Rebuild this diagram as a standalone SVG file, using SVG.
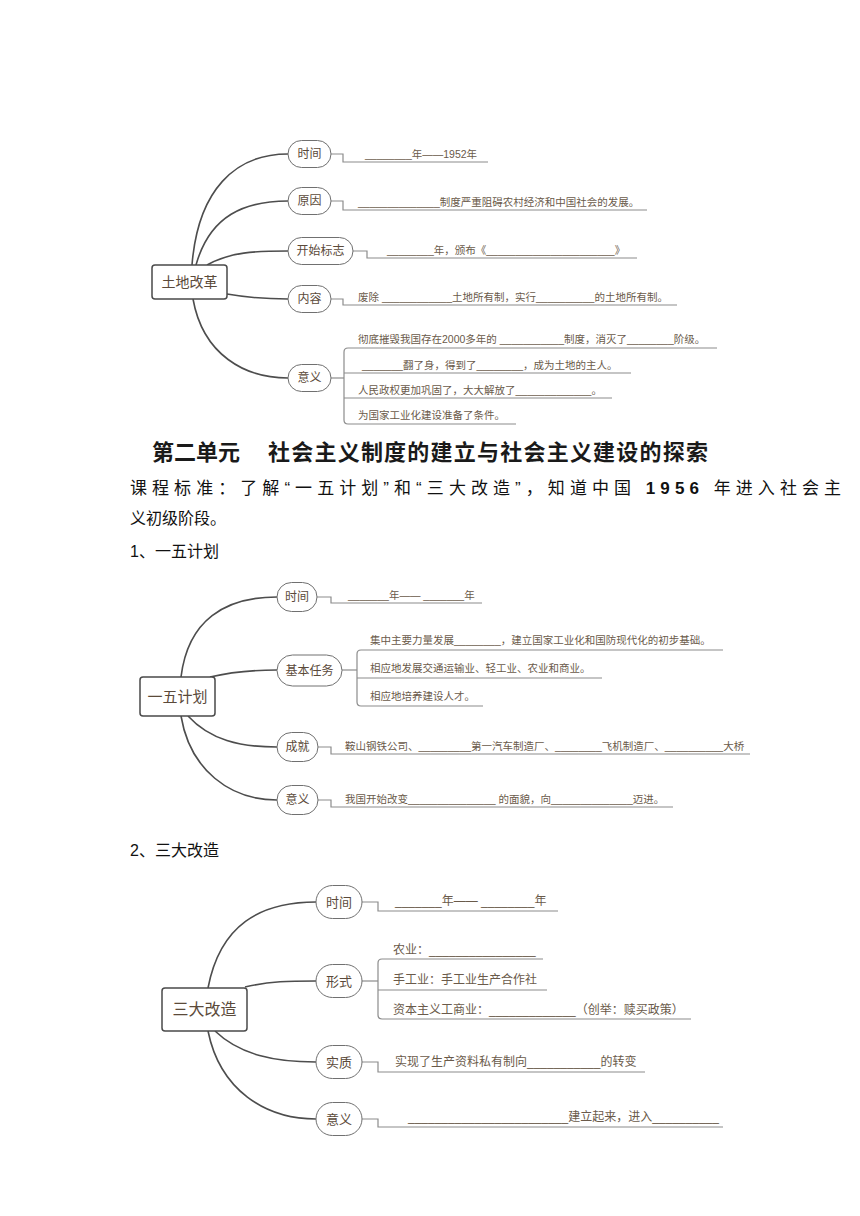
<svg xmlns="http://www.w3.org/2000/svg" width="860" height="1216" viewBox="0 0 860 1216">
<style>
text{font-family:"Liberation Sans","Noto Sans CJK SC",sans-serif;}
.root rect{fill:#fff;stroke:#4a4a4a;stroke-width:1.5;}
.root text{fill:#5b4a3a;text-anchor:middle;}
.node rect{fill:#fff;stroke:#707070;stroke-width:1;}
.node text{fill:#5b4a3a;text-anchor:middle;font-size:12px;}
.node.big text{font-size:13px;}
.conn path{fill:none;stroke:#4d4d4d;stroke-width:1.6;}
.br path{fill:none;stroke:#8c8c8c;stroke-width:1.2;}
.leaf{fill:#6a5a4a;font-size:10.5px;}
.leaf12{fill:#6a5a4a;font-size:12px;}
.head{fill:#1a1a1a;font-size:22px;font-weight:bold;}
.body{fill:#111;font-size:16px;}
.body.l1{font-size:17px;}
</style>
<rect width="860" height="1216" fill="#fff"/>

<!-- ===== Map 1: 土地改革 ===== -->
<g class="conn" id="map1-connectors">
<path d="M192,265 C198,190 235,154 288,154"/>
<path d="M196,265 C210,215 245,201 288,201"/>
<path d="M207,265 C230,252 255,251 288,251"/>
<path d="M227,294 C250,298 265,299 288,299"/>
<path d="M193,299 C203,355 245,378 288,378"/>
</g>
<g class="br" id="map1-brackets">
<path d="M331,154 H343 V162 H488"/>
<path d="M331,201 H343 V210 H647"/>
<path d="M353,251 H367 V258 H637"/>
<path d="M331,299 H343 V305 H677"/>
<path d="M331,378 H344"/>
<path d="M717,348 H348 Q344,348 344,352 V420 Q344,424 348,424 H516"/>
<path d="M344,373 H631"/>
<path d="M344,398 H612"/>
</g>
<g class="root" id="m1-root"><rect x="152" y="265" width="75" height="34" rx="3"/><text x="189.5" y="287" font-size="14">土地改革</text></g>
<g class="node" id="m1-time"><rect x="288" y="140.5" width="43" height="27" rx="13.5"/><text x="309.5" y="158">时间</text></g>
<g class="node" id="m1-cause"><rect x="288" y="187.5" width="43" height="27" rx="13.5"/><text x="309.5" y="205">原因</text></g>
<g class="node" id="m1-start"><rect x="288" y="237.5" width="65" height="27" rx="13.5"/><text x="320.5" y="255">开始标志</text></g>
<g class="node" id="m1-content"><rect x="288" y="285.5" width="43" height="27" rx="13.5"/><text x="309.5" y="303">内容</text></g>
<g class="node" id="m1-meaning"><rect x="288" y="364.5" width="43" height="27" rx="13.5"/><text x="309.5" y="382">意义</text></g>
<g id="m1-leaves">
<text class="leaf" x="365" y="158">________年——1952年</text>
<text class="leaf" x="358" y="206">______________制度严重阻碍农村经济和中国社会的发展。</text>
<text class="leaf" x="387" y="254">________年，颁布《______________________》</text>
<text class="leaf" x="358" y="301">废除 ____________土地所有制，实行__________的土地所有制。</text>
<text class="leaf" x="358" y="343">彻底摧毁我国存在2000多年的 ___________制度，消灭了________阶级。</text>
<text class="leaf" x="362" y="369">_______翻了身，得到了________，成为土地的主人。</text>
<text class="leaf" x="358" y="394">人民政权更加巩固了，大大解放了_____________。</text>
<text class="leaf" x="358" y="419">为国家工业化建设准备了条件。</text>
</g>

<!-- ===== Headings ===== -->
<text class="head" x="152" y="460">第二单元</text>
<text class="head" x="268" y="460" textLength="440" lengthAdjust="spacing">社会主义制度的建立与社会主义建设的探索</text>
<text class="body l1" x="130" y="494" textLength="711" lengthAdjust="spacing">课程标准：了解“一五计划”和“三大改造”，知道中国 <tspan font-weight="bold">1956</tspan> 年进入社会主</text>
<text class="body" x="130" y="524">义初级阶段。</text>
<text class="body" x="130" y="557">1、一五计划</text>

<!-- ===== Map 2: 一五计划 ===== -->
<g class="conn" id="map2-connectors">
<path d="M181,677 C188,620 225,597 277,597"/>
<path d="M210,677 C235,671 255,670 277,670"/>
<path d="M188,716 C210,740 240,747 277,747"/>
<path d="M181,716 C190,770 230,800 277,800"/>
</g>
<g class="br" id="map2-brackets">
<path d="M317,597 H331 V603 H482"/>
<path d="M342,670 H357"/>
<path d="M723,650 H361 Q357,650 357,654 V702 Q357,706 361,706 H483"/>
<path d="M357,678 H602"/>
<path d="M318,747 H331 V754 H750"/>
<path d="M318,800 H331 V807 H673"/>
</g>
<g class="root" id="m2-root"><rect x="140" y="677" width="75" height="39" rx="3"/><text x="177.5" y="702" font-size="15">一五计划</text></g>
<g class="node" id="m2-time"><rect x="277" y="582.5" width="40" height="29" rx="14.5"/><text x="297" y="601">时间</text></g>
<g class="node" id="m2-task"><rect x="277" y="655" width="65" height="31" rx="15.5"/><text x="309.5" y="675">基本任务</text></g>
<g class="node" id="m2-achieve"><rect x="277" y="732.5" width="41" height="29" rx="14.5"/><text x="297.5" y="751">成就</text></g>
<g class="node" id="m2-meaning"><rect x="277" y="785.5" width="41" height="29" rx="14.5"/><text x="297.5" y="804">意义</text></g>
<g id="m2-leaves">
<text class="leaf" x="348" y="599">_______年—— _______年</text>
<text class="leaf" x="370" y="644">集中主要力量发展________，建立国家工业化和国防现代化的初步基础。</text>
<text class="leaf" x="370" y="672">相应地发展交通运输业、轻工业、农业和商业。</text>
<text class="leaf" x="370" y="700">相应地培养建设人才。</text>
<text class="leaf" x="345" y="750">鞍山钢铁公司、_________第一汽车制造厂、________飞机制造厂、__________大桥</text>
<text class="leaf" x="345" y="803">我国开始改变_______________ 的面貌，向______________迈进。</text>
</g>

<text class="body" x="130" y="856">2、三大改造</text>

<!-- ===== Map 3: 三大改造 ===== -->
<g class="conn" id="map3-connectors">
<path d="M208,988 C220,925 260,902 316,902"/>
<path d="M245,987 C270,981 290,981 316,981"/>
<path d="M215,1031 C240,1055 275,1062 316,1062"/>
<path d="M208,1031 C220,1090 265,1119 316,1119"/>
</g>
<g class="br" id="map3-brackets">
<path d="M362,902 H378 V911 H558"/>
<path d="M362,981 H378"/>
<path d="M543,959 H382 Q378,959 378,963 V1015 Q378,1019 382,1019 H691"/>
<path d="M378,990 H547"/>
<path d="M362,1062 H378 V1072 H645"/>
<path d="M362,1119 H378 V1127 H723"/>
</g>
<g class="root" id="m3-root"><rect x="162" y="988" width="85" height="43" rx="3"/><text x="204.5" y="1015" font-size="16">三大改造</text></g>
<g class="node big" id="m3-time"><rect x="316" y="885.5" width="46" height="33" rx="16.5"/><text x="339" y="907">时间</text></g>
<g class="node big" id="m3-form"><rect x="316" y="964.5" width="46" height="33" rx="16.5"/><text x="339" y="986">形式</text></g>
<g class="node big" id="m3-essence"><rect x="316" y="1045.5" width="46" height="33" rx="16.5"/><text x="339" y="1067">实质</text></g>
<g class="node big" id="m3-meaning"><rect x="316" y="1102.5" width="46" height="33" rx="16.5"/><text x="339" y="1124">意义</text></g>
<g id="m3-leaves">
<text class="leaf12" x="395" y="905">_______年—— ________年</text>
<text class="leaf12" x="393" y="954">农业：________________</text>
<text class="leaf12" x="393" y="984">手工业：手工业生产合作社</text>
<text class="leaf12" x="393" y="1014">资本主义工商业：_____________（创举：赎买政策）</text>
<text class="leaf12" x="395" y="1066">实现了生产资料私有制向___________的转变</text>
<text class="leaf12" x="408" y="1121">________________________建立起来，进入__________</text>
</g>
</svg>
